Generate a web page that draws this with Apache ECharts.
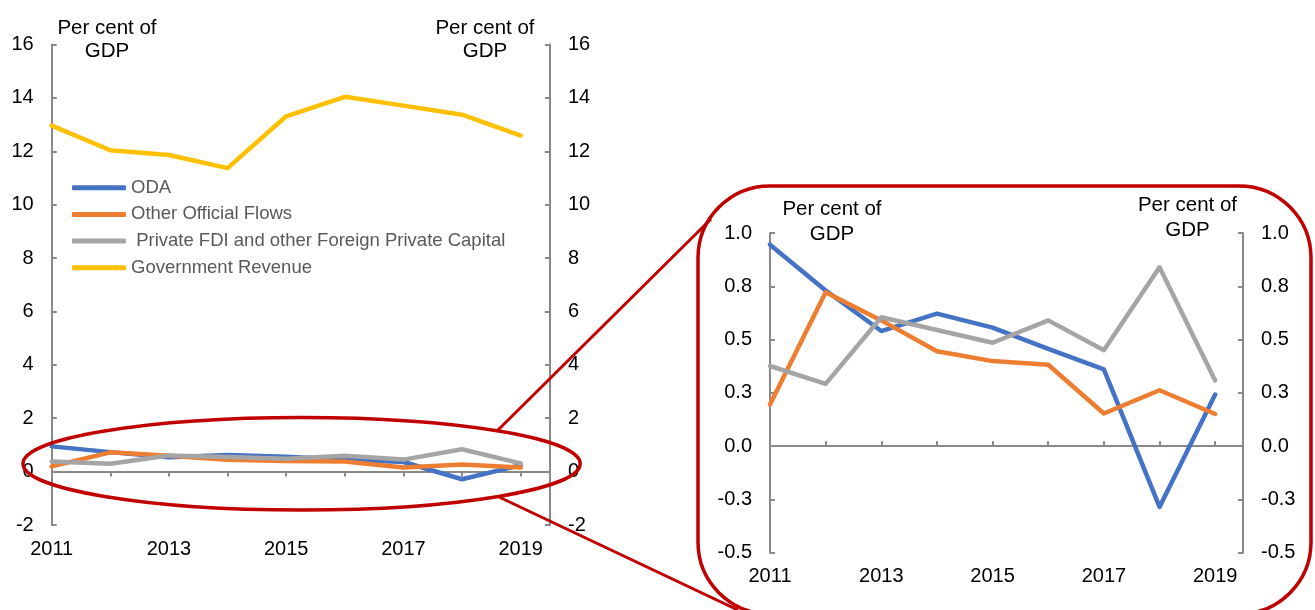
<!DOCTYPE html>
<html>
<head>
<meta charset="utf-8">
<script src="https://cdn.jsdelivr.net/npm/echarts@6/dist/echarts.min.js"></script>
<style>
html,body{margin:0;padding:0;background:#fff;}
#chart{width:1315px;height:610px;}
</style>
</head>
<body>
<div id="chart"></div>
<script>
// ---- data ----
const years = [2011, 2012, 2013, 2014, 2015, 2016, 2017, 2018, 2019];
const oda = [0.945, 0.73, 0.54, 0.622, 0.556, 0.456, 0.36, -0.285, 0.242];
const otherOfficial = [0.195, 0.722, 0.59, 0.445, 0.399, 0.382, 0.153, 0.262, 0.151];
const privateFDI = [0.376, 0.292, 0.605, 0.545, 0.485, 0.59, 0.45, 0.839, 0.308];
const govRevenue = [12.96, 12.04, 11.86, 11.37, 13.31, 14.04, 13.71, 13.37, 12.59];
const seriesNames = ['ODA', 'Other Official Flows', ' Private FDI and other Foreign Private Capital', 'Government Revenue'];
const mainTicks = { min: -2, max: 16, interval: 2 };
const insetTicks = { min: -0.5, max: 1, interval: 0.25 };
const axisTitle = 'Per cent of\nGDP';

const colors = ['#4472C4', '#ED7D31', '#A5A5A5', '#FFC000'];
const axisColor = '#898989';
const font = "'Liberation Sans', Arial, sans-serif";
const red = '#C00000';

function pairs(arr) { return years.map((y, i) => [y, arr[i]]); }

const chart = echarts.init(document.getElementById('chart'));

function yAxisDef(grid, pos, t, fmt) {
  return {
    type: 'value', gridIndex: grid, position: pos,
    min: t.min, max: t.max, interval: t.interval,
    axisLine: { show: true, onZero: false, lineStyle: { color: axisColor, width: 2 } },
    axisTick: { show: true, inside: true, length: 5, lineStyle: { color: axisColor, width: 2 } },
    splitLine: { show: false },
    axisLabel: { color: '#000', fontSize: 20, fontFamily: font, margin: 18, formatter: fmt }
  };
}
function xLineAxis(grid, inside) {
  return {
    type: 'value', gridIndex: grid, min: 2011, max: 2019.5, interval: 1,
    axisLine: { show: true, onZero: true, lineStyle: { color: axisColor, width: 2 } },
    axisTick: { show: true, inside: inside, length: 5, lineStyle: { color: axisColor, width: 2 } },
    axisLabel: { show: false },
    splitLine: { show: false }
  };
}
function xLabelAxis(grid) {
  return {
    type: 'value', gridIndex: grid, min: 2011, max: 2019.5, interval: 1, position: 'bottom',
    axisLine: { show: false, onZero: false },
    axisTick: { show: false },
    splitLine: { show: false },
    axisLabel: {
      color: '#000', fontSize: 20, fontFamily: font, margin: 14,
      showMinLabel: true, showMaxLabel: true,
      formatter: v => (Number.isInteger(v) && v % 2 === 1) ? String(v) : ''
    }
  };
}
function lineSeries(name, data, color, xi, yi) {
  return {
    type: 'line', name: name, data: pairs(data), xAxisIndex: xi, yAxisIndex: yi,
    showSymbol: false, symbol: 'none', animation: false,
    lineStyle: { color: color, width: 4.5, cap: 'round', join: 'round' },
    itemStyle: { color: color }
  };
}
function titleText(x, y, lh) {
  return {
    type: 'text', x: x, y: y, z: 10,
    style: { text: axisTitle, fontSize: 20.5, fontFamily: font, fill: '#000', align: 'center', verticalAlign: 'top', lineHeight: lh }
  };
}

const option = {
  animation: false,
  backgroundColor: '#fff',
  grid: [
    { left: 51.7, right: 765, top: 44.5, bottom: 85 },
    { left: 770, right: 72, top: 233, bottom: 57.3 }
  ],
  xAxis: [xLineAxis(0, false), xLabelAxis(0), xLineAxis(1, true), xLabelAxis(1)],
  yAxis: [
    yAxisDef(0, 'left', mainTicks),
    yAxisDef(0, 'right', mainTicks),
    yAxisDef(1, 'left', insetTicks, v => v.toFixed(1)),
    yAxisDef(1, 'right', insetTicks, v => v.toFixed(1))
  ],
  legend: {
    data: seriesNames, orient: 'vertical', left: 72, top: 177.7, padding: 0,
    itemGap: 6.7, itemWidth: 54, itemHeight: 5, icon: 'roundRect',
    selectedMode: false,
    textStyle: { color: '#595959', fontSize: 18.5, fontFamily: font, lineHeight: 20 }
  },
  series: [
    lineSeries(seriesNames[0], oda, colors[0], 0, 0),
    lineSeries(seriesNames[1], otherOfficial, colors[1], 0, 0),
    lineSeries(seriesNames[2], privateFDI, colors[2], 0, 0),
    lineSeries(seriesNames[3], govRevenue, colors[3], 0, 0),
    lineSeries(seriesNames[0], oda, colors[0], 2, 2),
    lineSeries(seriesNames[1], otherOfficial, colors[1], 2, 2),
    lineSeries(seriesNames[2], privateFDI, colors[2], 2, 2)
  ],
  graphic: [
    titleText(107, 16.6, 23.4),
    titleText(485, 16.6, 23.4),
    titleText(832, 196.5, 25),
    titleText(1187.5, 193.5, 24.5),
    { type: 'ellipse', z: 20, shape: { cx: 301.6, cy: 463.7, rx: 278.6, ry: 46.3 },
      style: { fill: 'none', stroke: red, lineWidth: 3.5 } },
    { type: 'rect', z: 20, shape: { x: 698, y: 186, width: 613, height: 428, r: 72 },
      style: { fill: 'none', stroke: red, lineWidth: 3.5 } },
    { type: 'line', z: 20, shape: { x1: 497, y1: 431, x2: 711, y2: 219 },
      style: { stroke: red, lineWidth: 3 } },
    { type: 'line', z: 20, shape: { x1: 499, y1: 497, x2: 738, y2: 610 },
      style: { stroke: red, lineWidth: 3 } }
  ]
};
chart.setOption(option);
</script>
</body>
</html>
